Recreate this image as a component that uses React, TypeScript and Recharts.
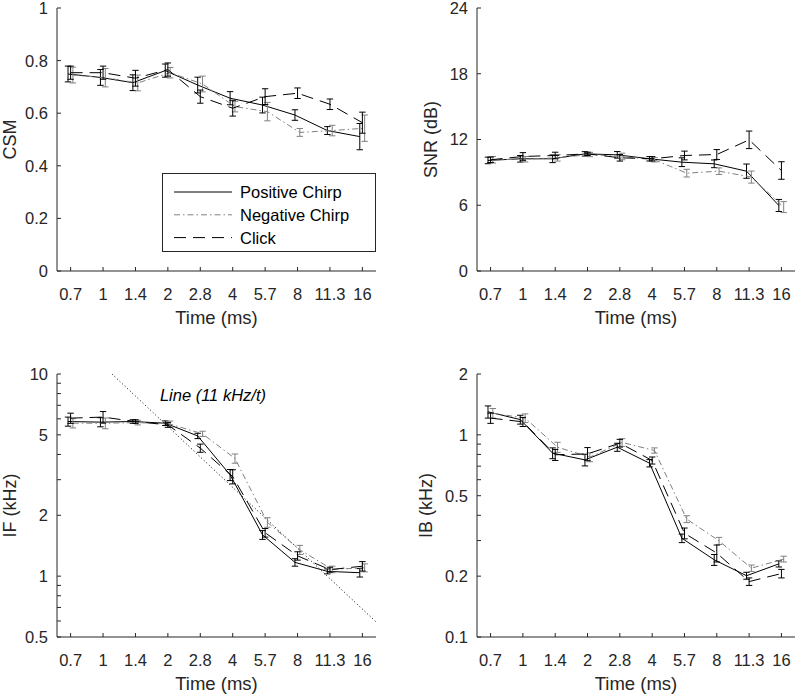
import React from "react";
import { ErrorBar, Legend, Line, LineChart, ReferenceDot, XAxis, YAxis } from "recharts";

const FONT = "'Liberation Sans', Arial, Helvetica, sans-serif";
const AXIS = "#262626";
const GRAY = "#808080";

// time points (ms), evenly spaced on the axis
const timeLabels = ["0.7", "1", "1.4", "2", "2.8", "4", "5.7", "8", "11.3", "16"];
const xTicks = [0, 1, 2, 3, 4, 5, 6, 7, 8, 9];
const xDomain: [number, number] = [-0.42, 9.42];

// CSM
const csmPos = [0.749, 0.736, 0.716, 0.762, 0.707, 0.657, 0.631, 0.593, 0.534, 0.511];
const csmNeg = [0.745, 0.735, 0.715, 0.754, 0.711, 0.625, 0.606, 0.527, 0.534, 0.543];
const csmClick = [0.754, 0.754, 0.733, 0.766, 0.663, 0.619, 0.663, 0.676, 0.634, 0.564];
const csmPosErr = [0.03, 0.03, 0.03, 0.025, 0.03, 0.025, 0.03, 0.02, 0.015, 0.05];
const csmNegErr = [0.03, 0.035, 0.03, 0.02, 0.03, 0.02, 0.035, 0.015, 0.02, 0.05];
const csmClickErr = [0.025, 0.025, 0.03, 0.025, 0.025, 0.03, 0.03, 0.02, 0.02, 0.04];

// SNR (dB)
const snrPos = [10.09, 10.24, 10.24, 10.69, 10.6, 10.24, 9.93, 9.78, 9.11, 5.98];
const snrNeg = [10.15, 10.2, 10.33, 10.63, 10.45, 10.15, 8.93, 9.11, 8.57, 5.83];
const snrClick = [10.15, 10.45, 10.54, 10.69, 10.33, 10.24, 10.54, 10.63, 11.97, 9.17];
const snrPosErr = [0.3, 0.3, 0.35, 0.2, 0.3, 0.2, 0.4, 0.35, 0.65, 0.55];
const snrNegErr = [0.3, 0.25, 0.3, 0.2, 0.3, 0.2, 0.35, 0.3, 0.55, 0.5];
const snrClickErr = [0.25, 0.35, 0.3, 0.15, 0.3, 0.2, 0.4, 0.45, 0.8, 0.8];

// IF (kHz)
const ifPos = [5.82, 5.78, 5.82, 5.71, 4.94, 3.17, 1.6, 1.17, 1.056, 1.04];
const ifNeg = [5.71, 5.71, 5.75, 5.65, 5.06, 3.82, 1.845, 1.35, 1.08, 1.1];
const ifClick = [6.05, 6.12, 5.82, 5.6, 4.3, 3.11, 1.64, 1.26, 1.077, 1.12];
const ifPosErr = [0.3, 0.3, 0.12, 0.15, 0.15, 0.2, 0.08, 0.05, 0.03, 0.05];
const ifNegErr = [0.3, 0.35, 0.15, 0.2, 0.15, 0.2, 0.1, 0.07, 0.04, 0.05];
const ifClickErr = [0.35, 0.4, 0.12, 0.15, 0.2, 0.25, 0.08, 0.06, 0.03, 0.06];

// reference line 11 kHz / t, end points (axis position, kHz)
const refLineX = [1.275, 9.42];
const refLineY = [10, 0.594];

// IB (kHz)
const ibPos = [1.3, 1.19, 0.812, 0.752, 0.869, 0.724, 0.308, 0.241, 0.201, 0.23];
const ibNeg = [1.28, 1.21, 0.869, 0.776, 0.917, 0.837, 0.383, 0.299, 0.219, 0.243];
const ibClick = [1.21, 1.16, 0.797, 0.805, 0.91, 0.747, 0.326, 0.26, 0.188, 0.206];
const ibPosErr = [0.09, 0.06, 0.05, 0.05, 0.04, 0.03, 0.015, 0.015, 0.008, 0.008];
const ibNegErr = [0.07, 0.06, 0.05, 0.04, 0.04, 0.025, 0.015, 0.012, 0.008, 0.008];
const ibClickErr = [0.07, 0.06, 0.05, 0.06, 0.04, 0.03, 0.02, 0.025, 0.008, 0.01];

const csmTicks = [0, 0.2, 0.4, 0.6, 0.8, 1];
const snrTicks = [0, 6, 12, 18, 24];
const ifTicks = [0.5, 0.6, 0.7, 0.8, 0.9, 1, 2, 3, 4, 5, 6, 7, 8, 9, 10];
const ifMajor = [0.5, 1, 2, 5, 10];
const ibTicks = [0.1, 0.2, 0.3, 0.4, 0.5, 0.6, 0.7, 0.8, 0.9, 1, 2];
const ibMajor = [0.1, 0.2, 0.5, 1, 2];

const seriesStyle = [
  { name: "Positive Chirp", color: "#000", dash: undefined as string | undefined, shift: -0.08 },
  { name: "Negative Chirp", color: GRAY, dash: "6 3 1.5 3", shift: 0.07 },
  { name: "Click", color: "#000", dash: "12 7", shift: 0 },
];

const build = (vals: number[], errs: number[], shift: number) =>
  vals.map((y, i) => ({ x: xTicks[i] + shift, y, e: errs[i] }));

function LeftTick(props: any) {
  const { x, y, payload, major } = props;
  const v = payload.value;
  const show = !major || major.includes(v);
  return (
    <g>
      <line x1={x} x2={x + 4} y1={y} y2={y} stroke={AXIS} />
      {show && (
        <text x={x - 9} y={y} dy="0.36em" textAnchor="end" fill={AXIS} fontSize={16.5} fontFamily={FONT}>
          {v}
        </text>
      )}
    </g>
  );
}

function RightTick(props: any) {
  const { x, y } = props;
  return <line x1={x} x2={x - 4} y1={y} y2={y} stroke={AXIS} />;
}

function BottomTick(props: any) {
  const { x, y, payload } = props;
  return (
    <g>
      <line x1={x} x2={x} y1={y} y2={y - 4} stroke={AXIS} />
      <text x={x} y={y + 29} textAnchor="middle" fill={AXIS} fontSize={16.5} fontFamily={FONT}>
        {timeLabels[payload.value]}
      </text>
    </g>
  );
}

function TopTick(props: any) {
  const { x, y } = props;
  return <line x1={x} x2={x} y1={y} y2={y + 4} stroke={AXIS} />;
}

function LegendBox() {
  return (
    <svg width={214} height={79} style={{ display: "block" }}>
      <rect x={0.5} y={0.5} width={213} height={78} fill="#fff" stroke={AXIS} />
      {seriesStyle.map((s, i) => {
        const cy = 19 + i * 22.8;
        return (
          <g key={s.name}>
            <line x1={12} x2={70} y1={cy} y2={cy} stroke={s.color} strokeDasharray={s.dash} />
            <text x={78} y={cy} dy="0.36em" fill="#000" fontSize={16.5} fontFamily={FONT}>
              {s.name}
            </text>
          </g>
        );
      })}
    </svg>
  );
}

type PanelProps = {
  left: number;
  top: number;
  height: number;
  yAxisWidth: number;
  marginRight: number;
  yTitle: string;
  yTitleX: number;
  log?: boolean;
  yDomain: [number, number];
  yTicks: number[];
  yMajor?: number[];
  values: number[][];
  errors: number[][];
  legend?: boolean;
  ref?: boolean;
};

function Panel(p: PanelProps) {
  const scale = p.log ? "log" : "linear";
  const width = 396;
  return (
    <div style={{ position: "absolute", left: p.left, top: p.top }}>
      <LineChart width={width} height={p.height} margin={{ top: 8, right: p.marginRight, left: 0, bottom: 0 }}>
        <XAxis
          dataKey="x"
          type="number"
          domain={xDomain}
          ticks={xTicks}
          interval={0}
          allowDataOverflow
          height={p.height - 8 - 263}
          tickSize={0}
          tickMargin={0}
          axisLine={{ stroke: AXIS }}
          tick={<BottomTick />}
          label={{
            content: (lp: any) => {
              const vb = lp.viewBox;
              return (
                <text x={vb.x + vb.width / 2} y={vb.y + 52.5} textAnchor="middle" fill={AXIS} fontSize={18.5} fontFamily={FONT}>
                  Time (ms)
                </text>
              );
            },
          }}
        />
        <XAxis
          xAxisId="t"
          orientation="top"
          type="number"
          domain={xDomain}
          ticks={xTicks}
          interval={0}
          allowDataOverflow
          height={0}
          tickSize={0}
          tickMargin={0}
          axisLine={{ stroke: AXIS }}
          tick={<TopTick />}
        />
        <YAxis
          type="number"
          scale={scale}
          domain={p.yDomain}
          ticks={p.yTicks}
          interval={0}
          allowDataOverflow
          width={p.yAxisWidth}
          tickSize={0}
          tickMargin={0}
          axisLine={{ stroke: AXIS }}
          tick={<LeftTick major={p.yMajor} />}
          label={{
            content: (lp: any) => {
              const vb = lp.viewBox;
              const cx = vb.x + p.yTitleX;
              const cy = vb.y + vb.height / 2;
              return (
                <text
                  x={cx}
                  y={cy}
                  dy="0.36em"
                  transform={`rotate(-90 ${cx} ${cy})`}
                  textAnchor="middle"
                  fill={AXIS}
                  fontSize={18}
                  fontFamily={FONT}
                >
                  {p.yTitle}
                </text>
              );
            },
          }}
        />
        <YAxis
          yAxisId="r"
          orientation="right"
          type="number"
          scale={scale}
          domain={p.yDomain}
          ticks={p.yTicks}
          interval={0}
          allowDataOverflow
          width={0}
          tickSize={0}
          tickMargin={0}
          axisLine={{ stroke: AXIS }}
          tick={<RightTick />}
        />
        {p.ref && (
          <Line
            data={refLineX.map((x, i) => ({ x, y: refLineY[i] }))}
            dataKey="y"
            stroke="#000"
            strokeWidth={1}
            strokeDasharray="1 2.5"
            dot={false}
            activeDot={false}
            legendType="none"
            isAnimationActive={false}
          />
        )}
        {seriesStyle.map((s, k) => (
          <Line
            key={s.name}
            name={s.name}
            data={build(p.values[k], p.errors[k], s.shift)}
            dataKey="y"
            stroke={s.color}
            strokeWidth={1}
            strokeDasharray={s.dash}
            dot={false}
            activeDot={false}
            isAnimationActive={false}
          >
            <ErrorBar dataKey="e" direction="y" width={3.2} stroke={s.color} strokeWidth={1} isAnimationActive={false} />
          </Line>
        ))}
        {p.ref && (
          <ReferenceDot
            x={4.39}
            y={7.87}
            r={0}
            fill="none"
            stroke="none"
            label={{
              content: (lp: any) => {
                const vb = lp.viewBox;
                return (
                  <text x={vb.x + vb.width / 2} y={vb.y + vb.height / 2} dy="0.36em" textAnchor="middle" fill="#000" fontSize={16.5} fontStyle="italic" fontFamily={FONT}>
                    Line (11 kHz/t)
                  </text>
                );
              },
            }}
          />
        )}
        {p.legend && (
          <Legend
            layout="vertical"
            align="center"
            verticalAlign="middle"
            wrapperStyle={{ left: 162, top: 173, width: 214, height: 79 }}
            content={() => <LegendBox />}
          />
        )}
      </LineChart>
    </div>
  );
}

export default function App() {
  return (
    <div style={{ position: "absolute", left: 0, top: 0, width: 796, height: 695, background: "#fff", overflow: "hidden" }}>
      <Panel
        left={0}
        top={0}
        height={340}
        yAxisWidth={57}
        marginRight={20}
        yTitle="CSM"
        yTitleX={10}
        yDomain={[0, 1]}
        yTicks={csmTicks}
        values={[csmPos, csmNeg, csmClick]}
        errors={[csmPosErr, csmNegErr, csmClickErr]}
        legend
      />
      <Panel
        left={400}
        top={0}
        height={340}
        yAxisWidth={77}
        marginRight={1}
        yTitle="SNR (dB)"
        yTitleX={31}
        yDomain={[0, 24]}
        yTicks={snrTicks}
        values={[snrPos, snrNeg, snrClick]}
        errors={[snrPosErr, snrNegErr, snrClickErr]}
      />
      <Panel
        left={0}
        top={366}
        height={329}
        yAxisWidth={57}
        marginRight={20}
        yTitle="IF (kHz)"
        yTitleX={10}
        log
        yDomain={[0.5, 10]}
        yTicks={ifTicks}
        yMajor={ifMajor}
        values={[ifPos, ifNeg, ifClick]}
        errors={[ifPosErr, ifNegErr, ifClickErr]}
        ref
      />
      <Panel
        left={400}
        top={366}
        height={329}
        yAxisWidth={77}
        marginRight={1}
        yTitle="IB (kHz)"
        yTitleX={26}
        log
        yDomain={[0.1, 2]}
        yTicks={ibTicks}
        yMajor={ibMajor}
        values={[ibPos, ibNeg, ibClick]}
        errors={[ibPosErr, ibNegErr, ibClickErr]}
      />
    </div>
  );
}
